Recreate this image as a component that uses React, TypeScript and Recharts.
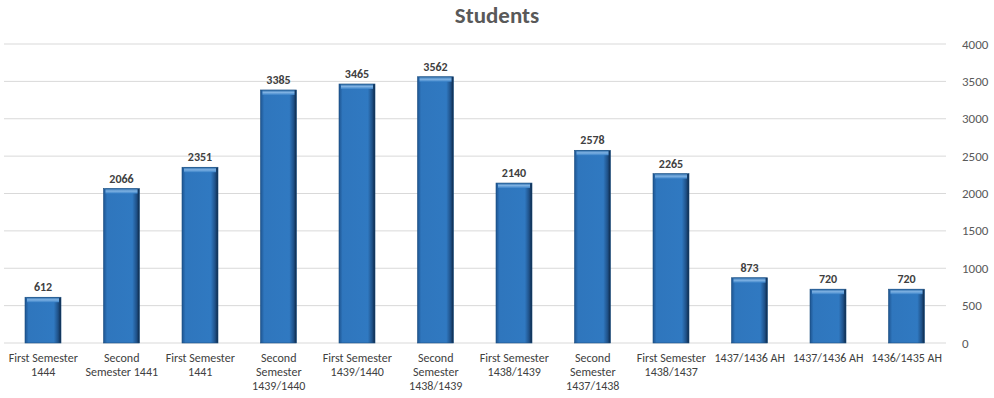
import { BarChart, Bar, CartesianGrid, XAxis, YAxis, LabelList } from 'recharts'

// Student counts per semester
const semesters = [
  'First Semester 1444',
  'Second Semester 1441',
  'First Semester 1441',
  'Second Semester 1439/1440',
  'First Semester 1439/1440',
  'Second Semester 1438/1439',
  'First Semester 1438/1439',
  'Second Semester 1437/1438',
  'First Semester 1438/1437',
  '1437/1436 AH',
  '1437/1436 AH',
  '1436/1435 AH',
]
const students = [612, 2066, 2351, 3385, 3465, 3562, 2140, 2578, 2265, 873, 720, 720]
const yTicks = [0, 500, 1000, 1500, 2000, 2500, 3000, 3500, 4000]

const data = semesters.map((name, i) => ({ key: i, name, students: students[i] }))

const FONT = "Carlito, 'Liberation Sans', Arial, sans-serif"

// simple word wrap, roughly like the spreadsheet does it
function wrap(label: string, max = 14) {
  const lines: string[] = []
  let cur = ''
  for (const w of label.split(' ')) {
    const next = cur ? cur + ' ' + w : w
    if (next.length > max && cur) {
      lines.push(cur)
      cur = w
    } else {
      cur = next
    }
  }
  if (cur) lines.push(cur)
  return lines
}

function CategoryTick(props: any) {
  const { x, y, payload } = props
  const label = semesters[payload.value] ?? ''
  const lines = wrap(label)
  return (
    <text x={x} y={y} textAnchor="middle" fill="#404040" fontSize={12} fontFamily={FONT}>
      {lines.map((l, i) => (
        <tspan key={i} x={x} dy={i === 0 ? 11 : 14}>
          {l}
        </tspan>
      ))}
    </text>
  )
}

function BevelBar(props: any) {
  const { x, y, width, height } = props
  if (!height || height <= 0) return null
  return (
    <g>
      <rect x={x} y={y} width={width} height={height} fill="url(#barSide)" />
      <rect x={x + 2} y={y} width={width - 4} height={5} fill="url(#barTop)" />
      <rect x={x} y={y} width={width} height={height} fill="none" stroke="#1c4f80" strokeWidth={0.6} />
    </g>
  )
}

export default function App() {
  return (
    <div style={{ position: 'absolute', left: 0, top: 0, width: 994, height: 398, background: '#fff' }}>
      <div
        style={{
          position: 'absolute',
          top: 1,
          left: 0,
          width: 994,
          textAlign: 'center',
          fontFamily: FONT,
          fontWeight: 'bold',
          fontSize: 23,
          color: '#595959',
        }}
      >
        Students
      </div>
      <BarChart width={994} height={398} data={data} margin={{ top: 44, right: 0, bottom: 0, left: 4 }}>
        <defs>
          <linearGradient id="barSide" x1="0" y1="0" x2="1" y2="0">
            <stop offset="0%" stopColor="#1d5490" />
            <stop offset="10%" stopColor="#2f76bd" />
            <stop offset="80%" stopColor="#3079c1" />
            <stop offset="92%" stopColor="#1f5188" />
            <stop offset="100%" stopColor="#0c2746" />
          </linearGradient>
          <linearGradient id="barTop" x1="0" y1="0" x2="0" y2="1">
            <stop offset="0%" stopColor="#2a6aa8" />
            <stop offset="50%" stopColor="#7fb2e3" />
            <stop offset="100%" stopColor="#3a82c8" />
          </linearGradient>
        </defs>
        <CartesianGrid vertical={false} stroke="#d9d9d9" />
        <XAxis dataKey="key" height={55} interval={0} axisLine={false} tickLine={false} tick={<CategoryTick />} />
        <YAxis
          orientation="right"
          width={48}
          domain={[0, 4000]}
          ticks={yTicks}
          axisLine={false}
          tickLine={false}
          tickMargin={10}
          tick={{ fill: '#595959', fontSize: 13, fontFamily: FONT }}
        />
        <Bar dataKey="students" barSize={36} shape={<BevelBar />} isAnimationActive={false}>
          <LabelList
            dataKey="students"
            position="top"
            offset={6}
            fill="#404040"
            fontSize={12}
            fontWeight="bold"
            fontFamily={FONT}
          />
        </Bar>
      </BarChart>
    </div>
  )
}
